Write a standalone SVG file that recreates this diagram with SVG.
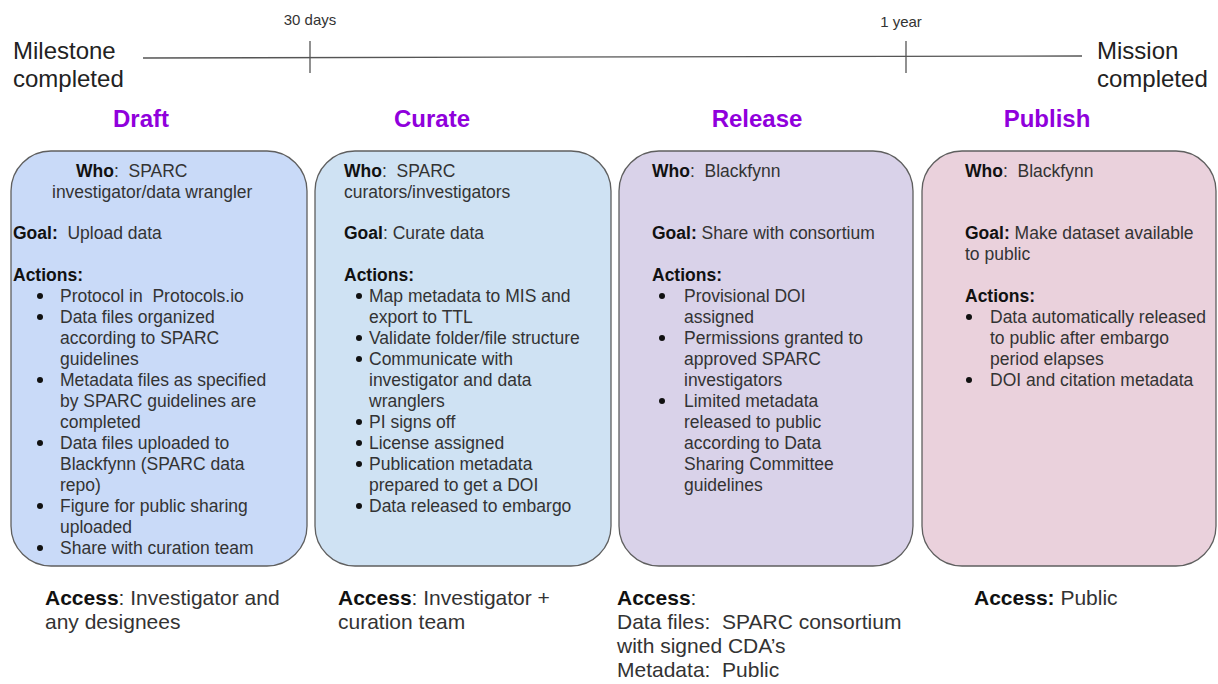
<svg xmlns="http://www.w3.org/2000/svg" width="1218" height="684" viewBox="0 0 1218 684">
<style>
text{font-family:"Liberation Sans",Arial,sans-serif;fill:#333;white-space:pre}
.big{font-size:24px;fill:#222}
.small{font-size:15px;fill:#333}
.hdr{font-size:24px;font-weight:bold;fill:#9000dc;text-anchor:middle}
.t{font-size:17.5px}
.acc{font-size:21px}
.b{font-weight:bold;fill:#111}
.box{stroke:#5f5f5f;stroke-width:1.3}
.bul{fill:#111}
</style>
<rect width="1218" height="684" fill="#fff"/>
<g id="timeline" stroke="#555" stroke-width="1.3" fill="none">
<line x1="143" y1="58" x2="1082" y2="56"/>
<line x1="310" y1="41" x2="310" y2="73"/>
<line x1="906" y1="41" x2="906" y2="73"/>
</g>
<g id="timeline-labels">
<text class="big" x="13" y="59">Milestone</text>
<text class="big" x="13" y="87">completed</text>
<text class="big" x="1097" y="59">Mission</text>
<text class="big" x="1097" y="87">completed</text>
<text class="small" x="310" y="25" text-anchor="middle">30 days</text>
<text class="small" x="901" y="27" text-anchor="middle">1 year</text>
</g>
<g id="headers">
<text class="hdr" x="141" y="127">Draft</text>
<text class="hdr" x="432" y="127">Curate</text>
<text class="hdr" x="757" y="127">Release</text>
<text class="hdr" x="1047" y="127">Publish</text>
</g>
<g id="connectors"/>
<g id="draft">
<rect class="box" x="11" y="151" width="296" height="415" rx="40" fill="#c9daf8"/>
<text class="t" x="76" y="177"><tspan class="b">Who</tspan>:  SPARC</text>
<text class="t" x="52" y="198">investigator/data wrangler</text>
<text class="t" x="13" y="239"><tspan class="b">Goal:</tspan>  Upload data</text>
<text class="t" x="13" y="281"><tspan class="b">Actions:</tspan></text>
<g class="bul"><circle cx="40" cy="296" r="3"/><circle cx="40" cy="317" r="3"/><circle cx="40" cy="380" r="3"/><circle cx="40" cy="443" r="3"/><circle cx="40" cy="506" r="3"/><circle cx="40" cy="548" r="3"/></g>
<text class="t" x="60" y="302">Protocol in  Protocols.io</text>
<text class="t" x="60" y="323">Data files organized</text>
<text class="t" x="60" y="344">according to SPARC</text>
<text class="t" x="60" y="365">guidelines</text>
<text class="t" x="60" y="386">Metadata files as specified</text>
<text class="t" x="60" y="407">by SPARC guidelines are</text>
<text class="t" x="60" y="428">completed</text>
<text class="t" x="60" y="449">Data files uploaded to</text>
<text class="t" x="60" y="470">Blackfynn (SPARC data</text>
<text class="t" x="60" y="491">repo)</text>
<text class="t" x="60" y="512">Figure for public sharing</text>
<text class="t" x="60" y="533">uploaded</text>
<text class="t" x="60" y="554">Share with curation team</text>
<text class="acc" x="45" y="605"><tspan class="b">Access</tspan>: Investigator and</text>
<text class="acc" x="45" y="629">any designees</text>
</g>
<g id="curate">
<rect class="box" x="315" y="151" width="296" height="415" rx="40" fill="#cfe2f3"/>
<text class="t" x="344" y="177"><tspan class="b">Who</tspan>:  SPARC</text>
<text class="t" x="344" y="198">curators/investigators</text>
<text class="t" x="344" y="239"><tspan class="b">Goal</tspan>: Curate data</text>
<text class="t" x="344" y="281"><tspan class="b">Actions:</tspan></text>
<g class="bul"><circle cx="359" cy="296" r="3"/><circle cx="359" cy="338" r="3"/><circle cx="359" cy="359" r="3"/><circle cx="359" cy="422" r="3"/><circle cx="359" cy="443" r="3"/><circle cx="359" cy="464" r="3"/><circle cx="359" cy="506" r="3"/></g>
<text class="t" x="369" y="302">Map metadata to MIS and</text>
<text class="t" x="369" y="323">export to TTL</text>
<text class="t" x="369" y="344">Validate folder/file structure</text>
<text class="t" x="369" y="365">Communicate with</text>
<text class="t" x="369" y="386">investigator and data</text>
<text class="t" x="369" y="407">wranglers</text>
<text class="t" x="369" y="428">PI signs off</text>
<text class="t" x="369" y="449">License assigned</text>
<text class="t" x="369" y="470">Publication metadata</text>
<text class="t" x="369" y="491">prepared to get a DOI</text>
<text class="t" x="369" y="512">Data released to embargo</text>
<text class="acc" x="338" y="605"><tspan class="b">Access</tspan>: Investigator +</text>
<text class="acc" x="338" y="629">curation team</text>
</g>
<g id="release">
<rect class="box" x="619" y="151" width="294" height="415" rx="40" fill="#d9d2e9"/>
<text class="t" x="652" y="177"><tspan class="b">Who</tspan>:  Blackfynn</text>
<text class="t" x="652" y="239"><tspan class="b">Goal:</tspan> Share with consortium</text>
<text class="t" x="652" y="281"><tspan class="b">Actions:</tspan></text>
<g class="bul"><circle cx="662" cy="296" r="3"/><circle cx="662" cy="338" r="3"/><circle cx="662" cy="401" r="3"/></g>
<text class="t" x="684" y="302">Provisional DOI</text>
<text class="t" x="684" y="323">assigned</text>
<text class="t" x="684" y="344">Permissions granted to</text>
<text class="t" x="684" y="365">approved SPARC</text>
<text class="t" x="684" y="386">investigators</text>
<text class="t" x="684" y="407">Limited metadata</text>
<text class="t" x="684" y="428">released to public</text>
<text class="t" x="684" y="449">according to Data</text>
<text class="t" x="684" y="470">Sharing Committee</text>
<text class="t" x="684" y="491">guidelines</text>
<text class="acc" x="617" y="605"><tspan class="b">Access</tspan>:</text>
<text class="acc" x="617" y="629">Data files:  SPARC consortium</text>
<text class="acc" x="617" y="653">with signed CDA’s</text>
<text class="acc" x="617" y="677">Metadata:  Public</text>
</g>
<g id="publish">
<rect class="box" x="922" y="151" width="294" height="415" rx="40" fill="#ead1dc"/>
<text class="t" x="965" y="177"><tspan class="b">Who</tspan>:  Blackfynn</text>
<text class="t" x="965" y="239"><tspan class="b">Goal:</tspan> Make dataset available</text>
<text class="t" x="965" y="260">to public</text>
<text class="t" x="965" y="302"><tspan class="b">Actions:</tspan></text>
<g class="bul"><circle cx="969" cy="317" r="3"/><circle cx="969" cy="380" r="3"/></g>
<text class="t" x="990" y="323">Data automatically released</text>
<text class="t" x="990" y="344">to public after embargo</text>
<text class="t" x="990" y="365">period elapses</text>
<text class="t" x="990" y="386">DOI and citation metadata</text>
<text class="acc" x="974" y="605"><tspan class="b">Access:</tspan> Public</text>
</g>
</svg>
